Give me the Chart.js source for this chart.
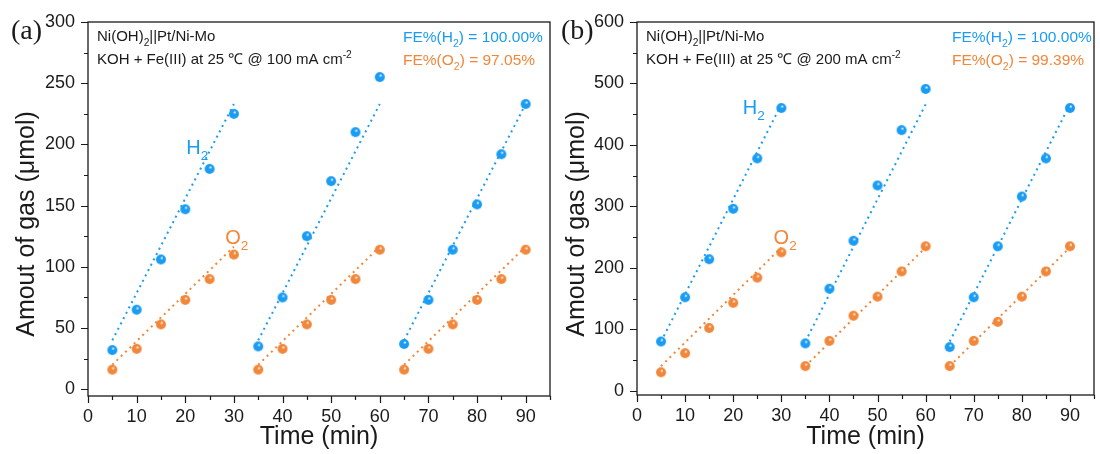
<!DOCTYPE html>
<html>
<head>
<meta charset="utf-8">
<script src="https://cdn.jsdelivr.net/npm/chart.js@4.4.1/dist/chart.umd.min.js"></script>
<style>
  body { margin: 0; background: #fff; width: 1100px; height: 454px; overflow: hidden; position: relative; }
  .box { position: absolute; top: 0; height: 454px; }
  #boxA { left: 0; width: 556px; }
  #boxB { left: 550px; width: 550px; }
</style>
</head>
<body>
<div class="box" id="boxA"><canvas id="chartA" width="556" height="454"></canvas></div>
<div class="box" id="boxB"><canvas id="chartB" width="550" height="454"></canvas></div>

<script>
// sampling times, three runs of 30 min
const times = [5, 10, 15, 20, 25, 30, 35, 40, 45, 50, 55, 60, 65, 70, 75, 80, 85, 90];
const runStart = [5, 35, 65];
const runEnd = [30, 60, 90];

// 100 mA cm-2 (panel a)
const h2_100 = [32, 65, 106, 147, 180, 225, 35, 75, 125, 170, 210, 255, 37, 73, 114, 151, 192, 233];
const o2_100 = [16, 33, 53, 73, 90, 110, 16, 33, 53, 73, 90, 114, 16, 33, 53, 73, 90, 114];
const h2Line_100 = [40, 233];   // theoretical line, start / end of each run
const o2Line_100 = [20, 116.5];

// 200 mA cm-2 (panel b)
const h2_200 = [80, 152, 214, 296, 378, 460, 77, 166, 244, 334, 424, 491, 71, 152, 235, 316, 378, 460];
const o2_200 = [30, 61, 102, 143, 184, 225, 40, 81, 122, 153, 194, 235, 40, 81, 112, 153, 194, 235];
const h2Line_200 = [80, 466];
const o2Line_200 = [40, 233];

const BLUE = '#1a9cf2';
const ORANGE = '#f0873a';
const INK = '#1a1a1a';
const SANS = '"Liberation Sans", Arial, sans-serif';

function makeBall(color) {
  const c = document.createElement('canvas');
  c.width = 12; c.height = 12;
  const g = c.getContext('2d');
  const grad = g.createRadialGradient(7, 4.2, 0.2, 6, 6, 5.2);
  grad.addColorStop(0, '#ffffff');
  grad.addColorStop(0.3, color);
  grad.addColorStop(1, color);
  g.fillStyle = grad;
  g.beginPath();
  g.arc(6, 6, 5, 0, Math.PI * 2);
  g.fill();
  return c;
}

function points(vals) {
  return times.map((t, i) => ({ x: t, y: vals[i] }));
}

// straight segment for each run, broken by a null
function runLines(ends) {
  const out = [];
  runStart.forEach((s, i) => {
    out.push({ x: s, y: ends[0] });
    out.push({ x: runEnd[i], y: ends[1] });
    out.push({ x: runEnd[i] + 2, y: null });
  });
  return out;
}

function richText(ctx, parts, x, y, size, color) {
  let cx = x;
  ctx.fillStyle = color;
  ctx.textBaseline = 'alphabetic';
  ctx.textAlign = 'left';
  for (const [t, mode] of parts) {
    const s = mode ? size * 0.68 : size;
    ctx.font = s + 'px ' + SANS;
    const dy = mode === 'sub' ? size * 0.3 : mode === 'sup' ? -size * 0.42 : 0;
    ctx.fillText(t, cx, y + dy);
    cx += ctx.measureText(t).width;
  }
}

// frame, ticks, titles and labels
const decor = {
  id: 'decor',
  afterDraw(chart) {
    const o = chart.options.plugins.decor;
    const ctx = chart.ctx;
    const a = chart.chartArea;
    const xs = chart.scales.x, ys = chart.scales.y;
    ctx.save();
    ctx.strokeStyle = INK;
    ctx.lineWidth = 1.3;
    ctx.strokeRect(a.left, a.top, a.right - a.left, a.bottom - a.top);

    ctx.lineWidth = 1.2;
    ctx.beginPath();
    xs.ticks.forEach(t => {
      const px = Math.round(xs.getPixelForValue(t.value)) + 0.5;
      const len = t.value % 10 === 0 ? 7 : 4;
      ctx.moveTo(px, a.bottom);
      ctx.lineTo(px, a.bottom + len);
    });
    ys.ticks.forEach(t => {
      const py = Math.round(ys.getPixelForValue(t.value)) + 0.5;
      const len = t.value % o.yMajor === 0 ? 7 : 4;
      ctx.moveTo(a.left, py);
      ctx.lineTo(a.left - len, py);
    });
    ctx.stroke();

    // panel letter
    ctx.fillStyle = INK;
    ctx.font = '28px "Liberation Serif", "Times New Roman", serif';
    ctx.textAlign = 'left';
    ctx.textBaseline = 'alphabetic';
    ctx.fillText(o.letter, 11, 39);

    // y title
    ctx.save();
    ctx.translate(27, 224);
    ctx.rotate(-Math.PI / 2);
    ctx.font = '25px ' + SANS;
    ctx.textAlign = 'center';
    ctx.textBaseline = 'middle';
    ctx.fillText('Amout of gas (\u03bcmol)', 0, 0);
    ctx.restore();

    // info text
    richText(ctx, [['Ni(OH)'], ['2', 'sub'], ['||Pt/Ni-Mo']], a.left + 9, 41, 15, INK);
    richText(ctx, [['KOH + Fe(III) at 25 \u2103 @ ' + o.current + ' mA cm'], ['-2', 'sup']], a.left + 9, 64, 15, INK);
    richText(ctx, [['FE%(H'], ['2', 'sub'], [') = ' + o.feH2]], a.left + 315, 42, 15.5, BLUE);
    richText(ctx, [['FE%(O'], ['2', 'sub'], [') = ' + o.feO2]], a.left + 315, 65, 15.5, ORANGE);

    // gas labels
    richText(ctx, [['H'], ['2', 'sub']], xs.getPixelForValue(o.h2Label[0]), ys.getPixelForValue(o.h2Label[1]), 20, BLUE);
    richText(ctx, [['O'], ['2', 'sub']], xs.getPixelForValue(o.o2Label[0]), ys.getPixelForValue(o.o2Label[1]), 20, ORANGE);
    ctx.restore();
  }
};

function makePanel(id, cfg) {
  const ballBlue = makeBall(BLUE);
  const ballOrange = makeBall(ORANGE);
  return new Chart(document.getElementById(id), {
    type: 'line',
    data: {
      datasets: [
        { data: points(cfg.h2), showLine: false, pointStyle: ballBlue, pointRadius: 5, order: 1 },
        { data: points(cfg.o2), showLine: false, pointStyle: ballOrange, pointRadius: 5, order: 1 },
        { data: runLines(cfg.h2Line), borderColor: BLUE, borderWidth: 2, borderDash: [2, 4], pointRadius: 0, spanGaps: false, order: 2 },
        { data: runLines(cfg.o2Line), borderColor: ORANGE, borderWidth: 2, borderDash: [2, 4], pointRadius: 0, spanGaps: false, order: 2 }
      ]
    },
    options: {
      responsive: false,
      animation: false,
      events: [],
      layout: { padding: { left: 0, right: cfg.padRight, top: 22, bottom: 0 } },
      plugins: {
        legend: { display: false },
        tooltip: { enabled: false },
        decor: cfg.decor
      },
      scales: {
        x: {
          type: 'linear',
          min: 0, max: 95,
          ticks: {
            stepSize: 5,
            includeBounds: false,
            autoSkip: false,
            maxRotation: 0,
            padding: 2,
            color: INK,
            font: { family: SANS, size: 18 },
            callback: v => (v % 10 === 0 ? v : '')
          },
          grid: { drawOnChartArea: false, tickLength: 8, tickColor: 'rgba(0,0,0,0)' },
          border: { display: false },
          title: { display: true, text: 'Time (min)', color: INK, font: { family: SANS, size: 25 }, padding: { top: 0, bottom: 2 } },
          afterFit: s => { s.height = cfg.xHeight; }
        },
        y: {
          min: cfg.yMin, max: cfg.yMax,
          ticks: {
            stepSize: cfg.yMinor,
            includeBounds: false,
            autoSkip: false,
            padding: 5,
            color: INK,
            font: { family: SANS, size: 18 },
            callback: v => (v % cfg.decor.yMajor === 0 ? v : '')
          },
          grid: { drawOnChartArea: false, tickLength: 8, tickColor: 'rgba(0,0,0,0)' },
          border: { display: false },
          afterFit: s => { s.width = cfg.yWidth; }
        }
      }
    },
    plugins: [decor]
  });
}

makePanel('chartA', {
  h2: h2_100, o2: o2_100, h2Line: h2Line_100, o2Line: o2Line_100,
  yMin: -5.5, yMax: 300, yMinor: 25,
  yWidth: 88, xHeight: 58, padRight: 5,
  decor: { letter: '(a)', current: '100', feH2: '100.00%', feO2: '97.05%', yMajor: 50, h2Label: [20.2, 192], o2Label: [28.2, 118.5] }
});

makePanel('chartB', {
  h2: h2_200, o2: o2_200, h2Line: h2Line_200, o2Line: o2Line_200,
  yMin: -7, yMax: 600, yMinor: 50,
  yWidth: 87, xHeight: 59, padRight: 1,
  decor: { letter: '(b)', current: '200', feH2: '100.00%', feO2: '99.39%', yMajor: 100, h2Label: [22, 450], o2Label: [28.4, 239] }
});
</script>
</body>
</html>
